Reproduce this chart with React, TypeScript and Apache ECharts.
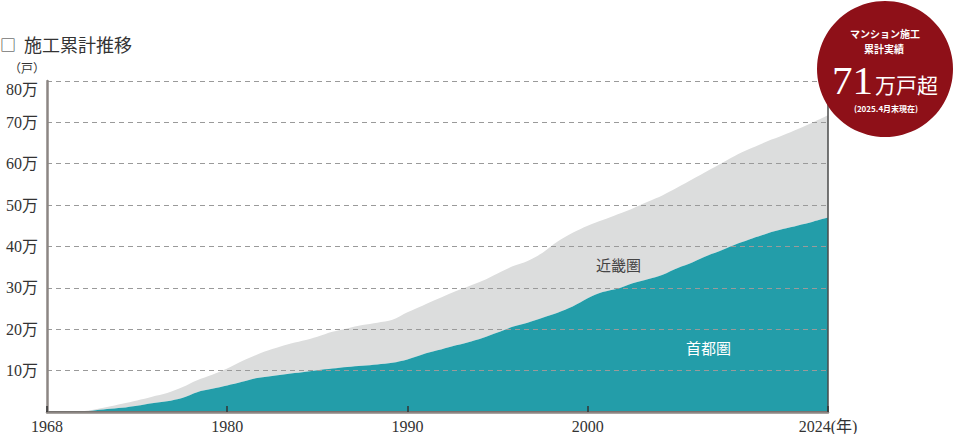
import { useEffect, useRef } from "react"
import * as echarts from "echarts"

// 首都圏 / 近畿圏 の累計戸数（万戸）、横軸は等間隔のサンプル点
const shutoken = [
  0, 0, 0.1, 0.3, 0.7, 1.0, 1.5, 2.1, 2.6, 3.4, 4.8, 5.6, 6.4,
  7.3, 8.2, 8.7, 9.2, 9.6, 10.1, 10.5, 10.9, 11.2, 11.5, 11.9, 12.7,
  13.9, 14.9, 15.9, 16.8, 17.9, 19.2, 20.6, 21.6, 22.8, 24.0, 25.5, 27.5,
  29.0, 29.8, 31.1, 32.1, 33.2, 34.8, 36.2, 37.8, 39.2, 40.7, 42.0, 43.2,
  44.2, 45.1, 46.0, 47.0,
]
const kinki = [
  0, 0, 0, 0.2, 0.5, 1.0, 1.3, 1.6, 2.0, 2.6, 2.9, 3.4, 4.1,
  5.0, 5.7, 6.5, 7.1, 7.6, 8.1, 8.9, 9.3, 9.8, 10.1, 10.4, 11.4,
  11.8, 12.4, 13.0, 13.5, 13.8, 14.3, 14.6, 14.9, 15.7, 17.2, 17.8, 17.5,
  17.4, 18.0, 18.1, 18.7, 19.2, 19.5, 20.1, 20.5, 21.1, 21.6, 21.9, 22.3,
  22.7, 23.3, 24.0, 24.7,
]
// 目盛りを付けるサンプル点と、その年ラベル
const xTicks: [number, string][] = [
  [0, "1968"],
  [12, "1980"],
  [24, "1990"],
  [36, "2000"],
  [52, "2024(年)"],
]
const categories = shutoken.map((_, i) => String(i))

const SERIF = "'Liberation Serif', 'Noto Sans CJK JP', serif"
const SANS = "'Noto Sans CJK JP', sans-serif"

export default function App() {
  const chartRef = useRef<HTMLDivElement>(null)

  useEffect(() => {
    if (!chartRef.current) return
    document.body.style.margin = "0"
    const chart = echarts.init(chartRef.current, null, { renderer: "svg" })

    const tickMap = new Map(xTicks)
    const showTick = (index: number) => tickMap.has(index)

    const option = {
      animation: false,
      grid: { left: 47, right: 132, top: 81, bottom: 22 },
      xAxis: [
        {
          type: "category",
          data: categories,
          boundaryGap: false,
          z: 3,
          axisLine: { lineStyle: { color: "#3a3a3a", width: 2 } },
          axisTick: {
            inside: true,
            length: 6,
            interval: showTick,
            lineStyle: { color: "#333", width: 1.5 },
          },
          axisLabel: {
            interval: showTick,
            margin: 6,
            fontSize: 16,
            color: "#333",
            fontFamily: SERIF,
            formatter: (_: string, index: number) => tickMap.get(index) || "",
          },
          splitLine: { show: false },
        },
        {
          type: "category",
          data: categories,
          position: "top",
          boundaryGap: false,
          z: 3,
          axisLine: { lineStyle: { color: "#8c8683", width: 2.5 } },
          axisTick: { show: false },
          axisLabel: { show: false },
        },
      ],
      yAxis: [
        {
          type: "value",
          min: 0,
          max: 80,
          interval: 10,
          z: 3,
          axisLine: { show: true, lineStyle: { color: "#8c8683", width: 2.5 } },
          axisTick: { show: false },
          axisLabel: {
            margin: 9,
            fontSize: 16,
            color: "#333",
            fontFamily: SERIF,
            formatter: (v: number) =>
              v === 0 ? "" : v === 80 ? `{top|${v}万}` : `${v}万`,
            rich: {
              top: {
                fontSize: 16,
                color: "#333",
                fontFamily: SERIF,
                padding: [16, 0, 0, 0],
              },
            },
          },
          splitLine: {
            lineStyle: { color: "#9a9a9a", width: 1, type: [5, 4] },
          },
        },
        {
          type: "value",
          min: 0,
          max: 80,
          interval: 10,
          position: "right",
          z: 3,
          axisLine: { show: true, lineStyle: { color: "#4a4a4a", width: 1.5 } },
          axisTick: { show: false },
          axisLabel: { show: false },
          splitLine: { show: false },
        },
      ],
      series: [
        {
          name: "首都圏",
          type: "line",
          stack: "total",
          data: shutoken,
          smooth: 0.3,
          symbol: "none",
          lineStyle: { width: 0 },
          areaStyle: { color: "#239da9", opacity: 1 },
          z: 2,
        },
        {
          name: "近畿圏",
          type: "line",
          stack: "total",
          data: kinki,
          smooth: 0.3,
          symbol: "none",
          lineStyle: { width: 0 },
          areaStyle: { color: "#dcdddd", opacity: 1 },
          z: 1,
        },
      ],
      graphic: [
        {
          type: "text",
          x: 0,
          y: 44,
          style: {
            text: "□",
            fontSize: 16,
            verticalAlign: "middle",
            fill: "#333",
            fontFamily: SANS,
          },
        },
        {
          type: "text",
          x: 24,
          y: 44,
          style: {
            text: "施工累計推移",
            fontSize: 18,
            verticalAlign: "middle",
            fill: "#333",
            fontFamily: SANS,
          },
        },
        {
          type: "text",
          x: 9,
          y: 67,
          style: {
            text: "（戸）",
            fontSize: 12,
            verticalAlign: "middle",
            fill: "#333",
            fontFamily: SANS,
          },
        },
        {
          type: "text",
          x: 596,
          y: 264,
          z: 10,
          style: {
            text: "近畿圏",
            fontSize: 15,
            verticalAlign: "middle",
            fill: "#444",
            fontFamily: SANS,
          },
        },
        {
          type: "text",
          x: 686,
          y: 347,
          z: 10,
          style: {
            text: "首都圏",
            fontSize: 15,
            verticalAlign: "middle",
            fill: "#fff",
            fontFamily: SANS,
          },
        },
        {
          type: "circle",
          shape: { cx: 885, cy: 69, r: 68 },
          z: 20,
          style: { fill: "#8e1018" },
        },
        {
          type: "text",
          x: 885,
          y: 33,
          z: 21,
          style: {
            text: "マンション施工",
            align: "center",
            verticalAlign: "middle",
            fontSize: 10,
            fontWeight: "bold",
            fill: "#fff",
            fontFamily: SANS,
          },
        },
        {
          type: "text",
          x: 884,
          y: 48,
          z: 21,
          style: {
            text: "累計実績",
            align: "center",
            verticalAlign: "middle",
            fontSize: 10,
            fontWeight: "bold",
            fill: "#fff",
            fontFamily: SANS,
          },
        },
        {
          type: "text",
          x: 873,
          y: 80,
          z: 21,
          style: {
            text: "71",
            align: "right",
            verticalAlign: "middle",
            fontSize: 41,
            fill: "#fff",
            fontFamily: SERIF,
          },
        },
        {
          type: "text",
          x: 875,
          y: 84,
          z: 21,
          style: {
            text: "万戸超",
            align: "left",
            verticalAlign: "middle",
            fontSize: 21,
            fill: "#fff",
            fontFamily: SANS,
          },
        },
        {
          type: "text",
          x: 886,
          y: 108,
          z: 21,
          style: {
            text: "(2025.4月末現在)",
            align: "center",
            verticalAlign: "middle",
            fontSize: 8,
            fontWeight: "bold",
            fill: "#fff",
            fontFamily: SANS,
          },
        },
      ],
    }

    chart.setOption(option)

    return () => {
      chart.dispose()
    }
  }, [])

  return <div ref={chartRef} style={{ width: 960, height: 434 }} />
}
